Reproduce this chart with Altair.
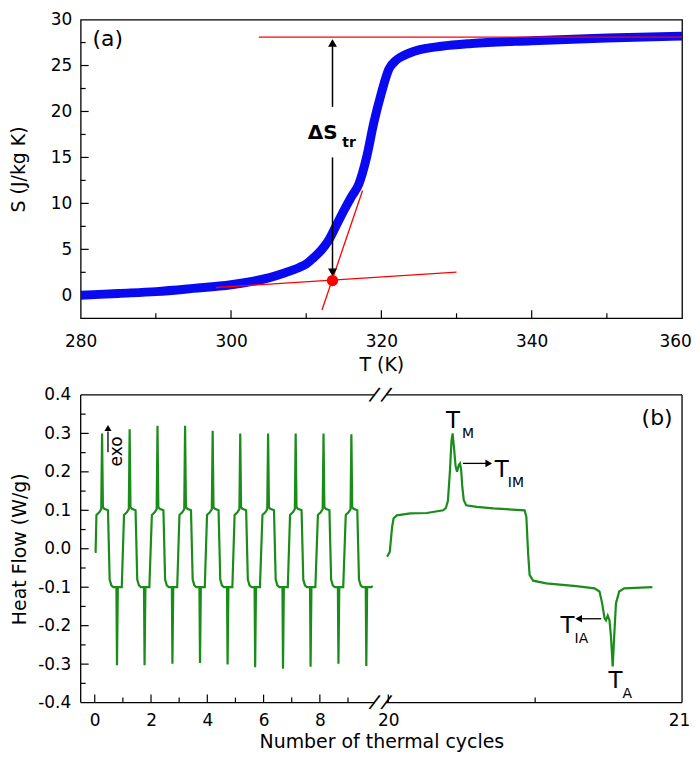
import altair as alt
import pandas as pd

FONT = "DejaVu Sans"

# ---------------- panel (a): entropy vs temperature ----------------
temp_K = [280, 285, 290, 295, 300, 303, 305, 307, 309, 310, 311, 312, 313, 314,
          315, 316, 317, 318, 319, 320, 321, 322, 323, 325, 328, 332, 340, 350, 360]
entropy = [0.0, 0.2, 0.4, 0.75, 1.15, 1.55, 1.9, 2.4, 3.0, 3.4, 4.1, 4.9, 6.0, 7.6,
           9.2, 10.7, 12.1, 14.9, 18.8, 22.0, 24.6, 25.6, 26.1, 26.7, 27.1, 27.4, 27.7, 28.0, 28.2]

tangent_id = ["upper", "upper", "base", "base", "steep", "steep"]
tangent_T = [303.7, 360, 298, 330, 312.1, 317.5]
tangent_S = [28.1, 28.1, 0.85, 2.52, -1.6, 11.4]
cross_T = [313.5]
cross_S = [1.6]

arrow_part = ["up", "up", "down", "down"]
arrow_T = [313.5, 313.5, 313.5, 313.5]
arrow_S = [27.4, 20.5, 15.0, 2.6]
head_up_T, head_up_S = [313.5], [27.45]
head_dn_T, head_dn_S = [313.5], [2.5]

panel_a_label = ["(a)"]
panel_a_lx, panel_a_ly = [283.6], [27.1]
dS_label, dS_T, dS_S = ["ΔS"], [312.2], [17.0]
tr_label, tr_T, tr_S = ["tr"], [314.8], [16.1]

xa_ticks = [280, 300, 320, 340, 360]
xa_major = [300, 320, 340]
xa_minor = [290, 310, 330, 350]
ya_ticks = [0, 5, 10, 15, 20, 25, 30]
ya_major = [5, 10, 15, 20, 25]
ya_minor = [2.5, 7.5, 12.5, 17.5, 22.5, 27.5]

# ---------------- panel (b): DSC heat flow ----------------
cycles_x = [
    0.00, 0.03,
    0.06, 0.16, 0.23, 0.26, 0.29, 0.34, 0.47, 0.53, 0.59, 0.66, 0.77, 0.79, 0.82, 0.96,
    1.04, 1.14, 1.21, 1.24, 1.27, 1.32, 1.45, 1.51, 1.57, 1.64, 1.75, 1.77, 1.80, 1.94,
    2.03, 2.13, 2.20, 2.23, 2.26, 2.31, 2.44, 2.50, 2.56, 2.63, 2.74, 2.76, 2.79, 2.93,
    3.01, 3.11, 3.18, 3.21, 3.24, 3.29, 3.42, 3.48, 3.54, 3.61, 3.72, 3.74, 3.77, 3.91,
    3.99, 4.09, 4.16, 4.19, 4.22, 4.27, 4.40, 4.46, 4.52, 4.59, 4.70, 4.72, 4.75, 4.89,
    4.97, 5.07, 5.14, 5.17, 5.20, 5.25, 5.38, 5.44, 5.50, 5.57, 5.68, 5.70, 5.73, 5.87,
    5.96, 6.06, 6.13, 6.16, 6.19, 6.24, 6.37, 6.43, 6.49, 6.56, 6.67, 6.69, 6.72, 6.86,
    6.94, 7.04, 7.11, 7.14, 7.17, 7.22, 7.35, 7.41, 7.47, 7.54, 7.65, 7.67, 7.70, 7.84,
    7.93, 8.03, 8.10, 8.13, 8.16, 8.21, 8.34, 8.40, 8.46, 8.53, 8.64, 8.66, 8.69, 8.83,
    8.92, 9.02, 9.09, 9.12, 9.15, 9.20, 9.33, 9.39, 9.45, 9.52, 9.63, 9.65, 9.68, 9.82,
    9.88]
cycles_y = [
    -0.008, -0.008,
    0.088, 0.095, 0.103, 0.300, 0.108, 0.104, 0.100, -0.080, -0.095, -0.100, -0.100, -0.303, -0.100, -0.100,
    0.088, 0.095, 0.103, 0.311, 0.108, 0.104, 0.100, -0.080, -0.095, -0.100, -0.100, -0.303, -0.100, -0.100,
    0.088, 0.095, 0.103, 0.320, 0.108, 0.104, 0.100, -0.080, -0.095, -0.100, -0.100, -0.299, -0.100, -0.100,
    0.088, 0.095, 0.103, 0.320, 0.108, 0.104, 0.100, -0.080, -0.095, -0.100, -0.100, -0.297, -0.100, -0.100,
    0.088, 0.095, 0.103, 0.307, 0.108, 0.104, 0.100, -0.080, -0.095, -0.100, -0.100, -0.301, -0.100, -0.100,
    0.088, 0.095, 0.103, 0.300, 0.108, 0.104, 0.100, -0.080, -0.095, -0.100, -0.100, -0.308, -0.100, -0.100,
    0.088, 0.095, 0.103, 0.300, 0.108, 0.104, 0.100, -0.080, -0.095, -0.100, -0.100, -0.312, -0.100, -0.100,
    0.088, 0.095, 0.103, 0.300, 0.108, 0.104, 0.100, -0.080, -0.095, -0.100, -0.100, -0.307, -0.100, -0.100,
    0.088, 0.095, 0.103, 0.300, 0.108, 0.104, 0.100, -0.080, -0.095, -0.100, -0.100, -0.299, -0.100, -0.100,
    0.088, 0.095, 0.103, 0.298, 0.108, 0.104, 0.100, -0.080, -0.095, -0.100, -0.100, -0.305, -0.100, -0.100,
    -0.097]

run21_x = [19.996, 20.005, 20.013, 20.018, 20.029, 20.075, 20.131, 20.187, 20.196, 20.203,
           20.210, 20.215, 20.219, 20.224, 20.229, 20.234, 20.240, 20.244, 20.248, 20.252,
           20.257, 20.265, 20.301, 20.357, 20.464, 20.470, 20.476, 20.481, 20.493, 20.538,
           20.640, 20.702, 20.719, 20.728, 20.736, 20.741, 20.747, 20.753, 20.758, 20.764,
           20.769, 20.775, 20.786, 20.803, 20.899]
run21_y = [-0.021, -0.008, 0.057, 0.079, 0.087, 0.092, 0.093, 0.100, 0.106, 0.125,
           0.204, 0.280, 0.300, 0.260, 0.215, 0.200, 0.218, 0.222, 0.205, 0.160,
           0.126, 0.113, 0.109, 0.105, 0.100, 0.083, -0.012, -0.068, -0.083, -0.090,
           -0.097, -0.103, -0.111, -0.142, -0.180, -0.186, -0.174, -0.186, -0.228, -0.306,
           -0.228, -0.142, -0.111, -0.103, -0.100]

big_T_x = [20.220, 20.386, 20.610, 20.773]
big_T_y = [0.315, 0.186, -0.218, -0.361]
sub_label = ["M", "IM", "IA", "A"]
sub_x = [20.251, 20.407, 20.634, 20.797]
sub_y = [0.289, 0.160, -0.244, -0.387]
panel_b_label, panel_b_lx, panel_b_ly = ["(b)"], [20.915], [0.323]

harrow_id = ["IM", "IM", "IA", "IA"]
harrow_x = [20.254, 20.336, 20.725, 20.655]
harrow_y = [0.222, 0.222, -0.182, -0.182]
head_right_x, head_right_y = [20.342], [0.222]
head_left_x, head_left_y = [20.648], [-0.182]

exo_x, exo_y = [0.79], [0.253]
exo_arrow_x, exo_arrow_y = [0.47, 0.47], [0.251, 0.305]
exo_head_x, exo_head_y = [0.47], [0.314]

# broken-axis frame of panel (b)
frame_x = [-0.5, 19.993, -0.5, 19.993, -0.5, 21]
frame_x2 = [9.94, 21, 9.94, 21, -0.5, 21]
frame_y = [0.4, 0.4, -0.4, -0.4, -0.4, -0.4]
frame_y2 = [0.4, 0.4, -0.4, -0.4, 0.4, 0.4]
break_x = [9.94, 19.993, 9.94, 19.993]
break_y = [0.4, 0.4, -0.4, -0.4]

xb_ticks = [0, 2, 4, 6, 8, 20, 21]
xb_major = [0, 2, 4, 6, 8, 20]
xb_minor = [1, 3, 5, 7, 9, 20.5]
yb_ticks = [-0.4, -0.3, -0.2, -0.1, 0.0, 0.1, 0.2, 0.3, 0.4]
yb_major = [-0.3, -0.2, -0.1, 0.0, 0.1, 0.2, 0.3]
yb_minor = [-0.35, -0.25, -0.15, -0.05, 0.05, 0.15, 0.25, 0.35]

# ---------------- layout ----------------
W, HA, HB = 604, 300, 309
BLUE, RED, GREEN = "#0a0af0", "#ff0000", "#1a8c1a"

ax_style = dict(labelFont=FONT, labelFontSize=17, labelColor="black",
                titleFont=FONT, titleFontSize=19, titleColor="black",
                titleFontWeight="normal", ticks=False, domain=False, grid=False,
                labelFlush=False, labelOverlap=False)

xa = alt.Scale(domain=[280, 360], nice=False, zero=False)
ya = alt.Scale(domain=[-2.5, 30], nice=False, zero=False)
xb = alt.Scale(domain=[-0.5, 10.15, 19.973, 21], range=[0, 301, 301, W], nice=False, zero=False)
yb = alt.Scale(domain=[-0.4, 0.4], nice=False, zero=False)

ax_xa = alt.Axis(values=xa_ticks, format="d", title="T (K)", labelPadding=15, titlePadding=6,
                 labelOffset={"condition": {"test": "datum.value == 360", "value": -7}, "value": 0},
                 **ax_style)
ax_ya = alt.Axis(values=ya_ticks, format="d", title="S (J/kg K)", labelPadding=9, titlePadding=22, **ax_style)
ax_xb = alt.Axis(values=xb_ticks, format="d", title="Number of thermal cycles",
                 labelPadding=10, titlePadding=4,
                 labelOffset={"condition": {"test": "datum.value == 21", "value": -3}, "value": 0},
                 **ax_style)
ax_yb = alt.Axis(values=yb_ticks, title="Heat Flow (W/g)",
                 labelExpr="datum.value < 0 ? '-' + format(-datum.value, '.1f') : format(datum.value, '.1f')",
                 labelPadding=10, titlePadding=8, **ax_style)

AX = {id(xa): ax_xa, id(ya): ax_ya, id(xb): ax_xb, id(yb): ax_yb}


def xq(field, scale):
    return alt.X(f"{field}:Q", scale=scale, axis=AX[id(scale)])


def yq(field, scale):
    return alt.Y(f"{field}:Q", scale=scale, axis=AX[id(scale)])


def tick_layers(xs_major, xs_minor, ys_major, ys_minor, sx, sy, H):
    out = []
    for vals, ln in ((xs_major, 8), (xs_minor, 5)):
        out.append(alt.Chart(pd.DataFrame({"v": vals})).mark_rule(color="black", strokeWidth=1.2).encode(
            x=xq("v", sx), y=alt.value(H), y2=alt.value(H - ln)))
    for vals, ln in ((ys_major, 8), (ys_minor, 5)):
        out.append(alt.Chart(pd.DataFrame({"v": vals})).mark_rule(color="black", strokeWidth=1.2).encode(
            y=yq("v", sy), x=alt.value(0), x2=alt.value(ln)))
    return out


# ---- panel (a)
df_s = pd.DataFrame({"T": temp_K, "S": entropy})
curve = alt.Chart(df_s).mark_line(color=BLUE, strokeWidth=9, interpolate="monotone", clip=True).encode(
    x=xq("T", xa), y=yq("S", ya))

tangents = alt.Chart(pd.DataFrame({"id": tangent_id, "T": tangent_T, "S": tangent_S})).mark_line(
    color=RED, strokeWidth=1.3, clip=True).encode(x=xq("T", xa), y=yq("S", ya), detail="id:N")
cross = alt.Chart(pd.DataFrame({"T": cross_T, "S": cross_S})).mark_point(
    shape="circle", filled=True, size=130, color=RED, opacity=1).encode(x=xq("T", xa), y=yq("S", ya))
arrows_a = alt.Chart(pd.DataFrame({"p": arrow_part, "T": arrow_T, "S": arrow_S})).mark_line(
    color="black", strokeWidth=1.5).encode(x=xq("T", xa), y=yq("S", ya), detail="p:N")
head_up = alt.Chart(pd.DataFrame({"T": head_up_T, "S": head_up_S})).mark_point(
    shape="triangle-up", filled=True, size=80, color="black", opacity=1).encode(x=xq("T", xa), y=yq("S", ya))
head_dn = alt.Chart(pd.DataFrame({"T": head_dn_T, "S": head_dn_S})).mark_point(
    shape="triangle-down", filled=True, size=80, color="black", opacity=1).encode(x=xq("T", xa), y=yq("S", ya))
lab_a = alt.Chart(pd.DataFrame({"t": panel_a_label, "T": panel_a_lx, "S": panel_a_ly})).mark_text(
    font=FONT, fontSize=22, color="black", align="center", baseline="alphabetic").encode(
    x=xq("T", xa), y=yq("S", ya), text="t:N")
lab_dS = alt.Chart(pd.DataFrame({"t": dS_label, "T": dS_T, "S": dS_S})).mark_text(
    font=FONT, fontSize=20, fontWeight="bold", color="black", align="center", baseline="alphabetic").encode(
    x=xq("T", xa), y=yq("S", ya), text="t:N")
lab_tr = alt.Chart(pd.DataFrame({"t": tr_label, "T": tr_T, "S": tr_S})).mark_text(
    font=FONT, fontSize=14, fontWeight="bold", color="black", align="left", baseline="alphabetic").encode(
    x=xq("T", xa), y=yq("S", ya), text="t:N")

panel_a = alt.layer(
    curve, tangents, arrows_a, head_up, head_dn, cross, lab_a, lab_dS, lab_tr,
    *tick_layers(xa_major, xa_minor, ya_major, ya_minor, xa, ya, HA)
).properties(width=W, height=HA, view=alt.ViewBackground(stroke="black", strokeWidth=1.3))

# ---- panel (b)
df_b = pd.concat([
    pd.DataFrame({"seg": "cycles", "n": cycles_x, "hf": cycles_y}),
    pd.DataFrame({"seg": "run21", "n": run21_x, "hf": run21_y}),
])
flow = alt.Chart(df_b).mark_line(color=GREEN, strokeWidth=2.2).encode(
    x=xq("n", xb), y=yq("hf", yb), detail="seg:N", order="n:Q")

frame = alt.Chart(pd.DataFrame({"x": frame_x, "x2": frame_x2, "y": frame_y, "y2": frame_y2})).mark_rule(
    color="black", strokeWidth=1.3).encode(x=xq("x", xb), x2="x2:Q", y=yq("y", yb), y2="y2:Q")
breaks = alt.Chart(pd.DataFrame({"x": break_x, "y": break_y})).mark_text(
    text="/", font=FONT, fontSize=20, angle=20, color="black", align="center", baseline="middle").encode(
    x=xq("x", xb), y=yq("y", yb))
big_T = alt.Chart(pd.DataFrame({"x": big_T_x, "y": big_T_y})).mark_text(
    text="T", font=FONT, fontSize=23, color="black", align="center", baseline="alphabetic").encode(
    x=xq("x", xb), y=yq("y", yb))
subs = alt.Chart(pd.DataFrame({"t": sub_label, "x": sub_x, "y": sub_y})).mark_text(
    font=FONT, fontSize=14, color="black", align="left", baseline="alphabetic").encode(
    x=xq("x", xb), y=yq("y", yb), text="t:N")
lab_b = alt.Chart(pd.DataFrame({"t": panel_b_label, "x": panel_b_lx, "y": panel_b_ly})).mark_text(
    font=FONT, fontSize=22, color="black", align="center", baseline="alphabetic").encode(
    x=xq("x", xb), y=yq("y", yb), text="t:N")
harrows = alt.Chart(pd.DataFrame({"id": harrow_id, "x": harrow_x, "y": harrow_y})).mark_line(
    color="black", strokeWidth=1.3).encode(x=xq("x", xb), y=yq("y", yb), detail="id:N")
head_r = alt.Chart(pd.DataFrame({"x": head_right_x, "y": head_right_y})).mark_point(
    shape="triangle-right", filled=True, size=60, color="black", opacity=1).encode(x=xq("x", xb), y=yq("y", yb))
head_l = alt.Chart(pd.DataFrame({"x": head_left_x, "y": head_left_y})).mark_point(
    shape="triangle-left", filled=True, size=60, color="black", opacity=1).encode(x=xq("x", xb), y=yq("y", yb))
exo_txt = alt.Chart(pd.DataFrame({"x": exo_x, "y": exo_y})).mark_text(
    text="exo", font=FONT, fontSize=17, angle=270, color="black", align="center", baseline="middle").encode(
    x=xq("x", xb), y=yq("y", yb))
exo_line = alt.Chart(pd.DataFrame({"x": exo_arrow_x, "y": exo_arrow_y})).mark_line(
    color="black", strokeWidth=1.3).encode(x=xq("x", xb), y=yq("y", yb))
exo_head = alt.Chart(pd.DataFrame({"x": exo_head_x, "y": exo_head_y})).mark_point(
    shape="triangle-up", filled=True, size=50, color="black", opacity=1).encode(x=xq("x", xb), y=yq("y", yb))

panel_b = alt.layer(
    flow, frame, breaks, big_T, subs, lab_b, harrows, head_r, head_l, exo_txt, exo_line, exo_head,
    *tick_layers(xb_major, xb_minor, yb_major, yb_minor, xb, yb, HB)
).properties(width=W, height=HB)

chart = alt.vconcat(panel_a, panel_b, spacing=9).properties(
    padding=0, background="white").configure_view(stroke=None)

chart.save("out.html", embed_options={"renderer": "svg", "actions": False})
